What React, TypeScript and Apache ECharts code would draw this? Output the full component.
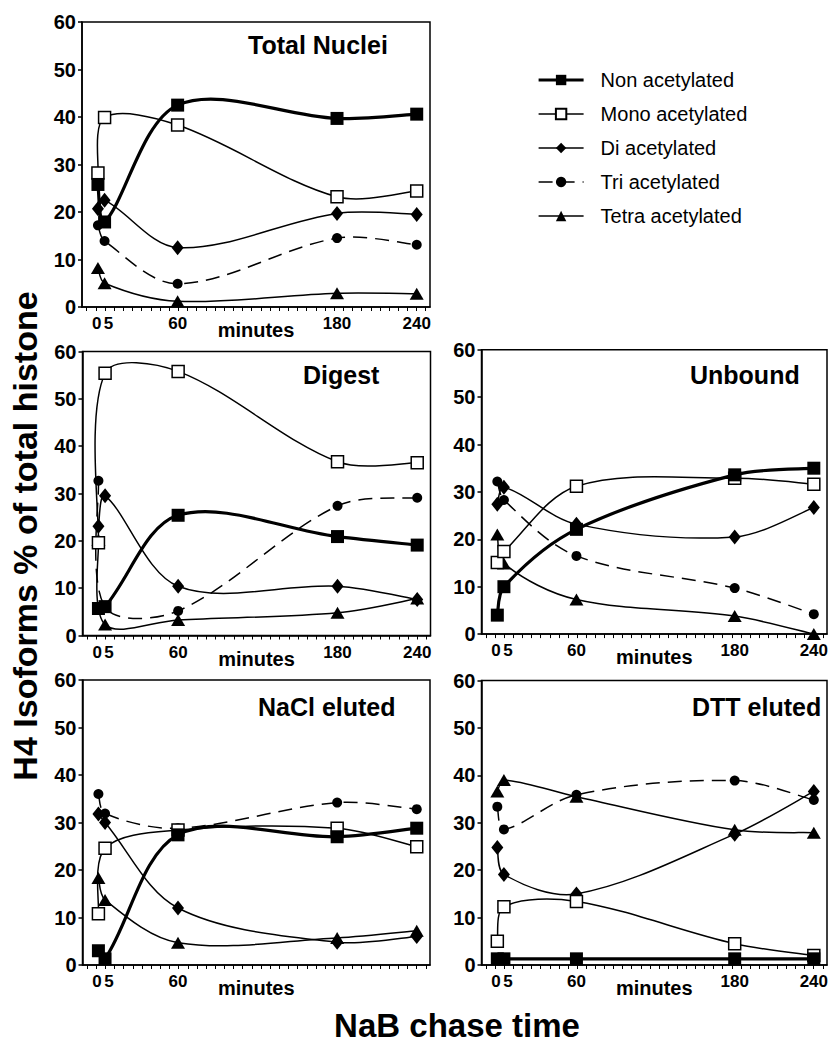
import React, { useEffect, useRef } from "react";
import * as echarts from "echarts";

const minutes = [0, 5, 60, 180, 240];
const seriesNames = ["Non acetylated", "Mono acetylated", "Di acetylated", "Tri acetylated", "Tetra acetylated"];
const panelTitles = ["Total Nuclei", "Digest", "Unbound", "NaCl eluted", "DTT eluted"];
const xTickLabels = ["0", "5", "60", "180", "240"];

// Total Nuclei
const totalNon = [25.8, 17.9, 42.5, 39.7, 40.6];
const totalMono = [28.2, 39.9, 38.3, 23.2, 24.4];
const totalDi = [20.7, 22.5, 12.5, 19.7, 19.5];
const totalTri = [17.2, 13.9, 4.9, 14.5, 13.1];
const totalTetra = [8.2, 5.0, 1.2, 2.9, 2.8];
// Digest
const digestNon = [5.7, 6.1, 25.4, 20.9, 19.1];
const digestMono = [19.6, 55.4, 55.8, 36.7, 36.5];
const digestDi = [23.1, 29.5, 10.4, 10.4, 7.6];
const digestTri = [32.7, 6.0, 5.2, 27.4, 29.1];
const digestTetra = [20.2, 2.3, 3.3, 4.8, 7.8];
// Unbound
const unboundNon = [4.0, 10.0, 22.1, 33.6, 35.0];
const unboundMono = [15.1, 17.4, 31.2, 32.9, 31.6];
const unboundDi = [27.4, 31.0, 23.2, 20.5, 26.7];
const unboundTri = [32.2, 28.3, 16.5, 9.7, 4.2];
const unboundTetra = [21.0, 14.9, 7.3, 3.8, 0.0];
// NaCl eluted
const naclNon = [3.0, 1.3, 27.4, 27.0, 28.8];
const naclMono = [10.8, 24.6, 28.4, 28.8, 24.9];
const naclDi = [31.8, 30.0, 12.0, 4.8, 6.0];
const naclTri = [36.0, 31.9, 28.8, 34.2, 32.8];
const naclTetra = [18.3, 13.7, 4.7, 5.7, 7.2];
// DTT eluted
const dttNon = [1.3, 1.3, 1.3, 1.3, 1.3];
const dttMono = [5.0, 12.3, 13.4, 4.5, 2.0];
const dttDi = [24.8, 19.1, 15.0, 27.6, 36.6];
const dttTri = [33.4, 28.6, 35.9, 38.9, 34.8];
const dttTetra = [36.6, 39.0, 35.5, 28.5, 27.9];

const panels = [
  [totalNon, totalMono, totalDi, totalTri, totalTetra],
  [digestNon, digestMono, digestDi, digestTri, digestTetra],
  [unboundNon, unboundMono, unboundDi, unboundTri, unboundTetra],
  [naclNon, naclMono, naclDi, naclTri, naclTetra],
  [dttNon, dttMono, dttDi, dttTri, dttTetra],
];

const FONT = "'Liberation Sans', Arial, sans-serif";

const gridBoxes = [
  { left: 82, top: 22, width: 348, height: 285 },
  { left: 82.5, top: 351.5, width: 348, height: 284 },
  { left: 481.5, top: 349.7, width: 346.5, height: 284.4 },
  { left: 82.5, top: 680, width: 347.5, height: 285 },
  { left: 481.5, top: 680.5, width: 347, height: 284.5 },
];

const titlePos = [
  { x: 248, y: 45 },
  { x: 303, y: 375 },
  { x: 690, y: 375 },
  { x: 258, y: 707 },
  { x: 692, y: 707 },
];

// label positions nudged so "0" and "5" don't collide
const labelValues = [-1, 8, 60, 180, 240];

const lineStyles: Record<string, any> = {
  "Non acetylated": { width: 3.2, color: "#000", type: "solid" },
  "Mono acetylated": { width: 1.5, color: "#000", type: "solid" },
  "Di acetylated": { width: 1.5, color: "#000", type: "solid" },
  "Tri acetylated": { width: 1.5, color: "#000", type: [14, 8] },
  "Tetra acetylated": { width: 1.5, color: "#000", type: "solid" },
};

const markerStyles: Record<string, any> = {
  "Non acetylated": { symbol: "rect", symbolSize: 13, itemStyle: { color: "#000" } },
  "Mono acetylated": { symbol: "rect", symbolSize: 12, itemStyle: { color: "#fff", borderColor: "#000", borderWidth: 1.5 } },
  "Di acetylated": { symbol: "diamond", symbolSize: [12, 15], itemStyle: { color: "#000" } },
  "Tri acetylated": { symbol: "circle", symbolSize: 10, itemStyle: { color: "#000" } },
  "Tetra acetylated": { symbol: "triangle", symbolSize: [14, 12], itemStyle: { color: "#000" } },
};

function curvePath(pts: number[][]): string {
  // distance-weighted cardinal spline through the projected points
  const s = 1 / 3;
  const n = pts.length;
  const dist = (a: number[], b: number[]) => Math.hypot(b[0] - a[0], b[1] - a[1]);
  const cpIn: number[][] = [];
  const cpOut: number[][] = [];
  for (let i = 0; i < n; i++) {
    const p = pts[i];
    if (i === 0 || i === n - 1) {
      const q = i === 0 ? pts[1] : pts[n - 2];
      const c = [p[0] + (q[0] - p[0]) / 6, p[1] + (q[1] - p[1]) / 6];
      cpIn.push(c);
      cpOut.push(c);
      continue;
    }
    const a = pts[i - 1];
    const b = pts[i + 1];
    const vx = b[0] - a[0];
    const vy = b[1] - a[1];
    const d0 = dist(a, p);
    const d1 = dist(p, b);
    const sum = d0 + d1 || 1;
    cpIn.push([p[0] - vx * s * (d0 / sum), p[1] - vy * s * (d0 / sum)]);
    cpOut.push([p[0] + vx * s * (d1 / sum), p[1] + vy * s * (d1 / sum)]);
  }
  let d = `M${pts[0][0]} ${pts[0][1]}`;
  for (let i = 0; i < n - 1; i++) {
    const c1 = cpOut[i];
    const c2 = cpIn[i + 1];
    d += ` C${c1[0]} ${c1[1]} ${c2[0]} ${c2[1]} ${pts[i + 1][0]} ${pts[i + 1][1]}`;
  }
  return d;
}

export default function App() {
  const ref = useRef<HTMLDivElement>(null);
  useEffect(() => {
    if (!ref.current) return;
    const chart = echarts.init(ref.current, null, { renderer: "svg" });

    const minorTicks: number[] = [];
    for (let v = -8.5; v <= 250; v += 6.9) minorTicks.push(Math.round(v * 10) / 10);

    const grid = gridBoxes.map((g) => ({
      ...g,
      show: true,
      borderColor: "#000",
      borderWidth: 1.5,
      backgroundColor: "transparent",
    }));

    const xAxis = gridBoxes.map((_, i) => ({
      type: "value",
      gridIndex: i,
      min: -12,
      max: 250,
      name: "minutes",
      nameLocation: "middle",
      nameGap: 13,
      nameMoveOverlap: false,
      nameTextStyle: { fontFamily: FONT, fontWeight: "bold", fontSize: 20, color: "#000", verticalAlign: "top" },
      splitLine: { show: false },
      axisLine: { show: true, onZero: false, lineStyle: { color: "#000", width: 1.5 } },
      axisTick: { show: true, length: 4, inside: false, customValues: minorTicks, lineStyle: { color: "#000", width: 1 } },
      axisLabel: {
        show: true,
        customValues: i === 3 ? labelValues.slice(0, 3) : labelValues,
        formatter: (v: number) => {
          const k = labelValues.indexOf(v);
          return k >= 0 ? xTickLabels[k] : "";
        },
        margin: 8,
        fontFamily: FONT,
        fontWeight: "bold",
        fontSize: 17,
        color: "#000",
        showMinLabel: true,
        showMaxLabel: true,
      },
    }));

    const yAxis = gridBoxes.map((_, i) => ({
      type: "value",
      gridIndex: i,
      min: 0,
      max: 60,
      interval: 10,
      splitLine: { show: false },
      axisLine: { show: true, onZero: false, lineStyle: { color: "#000", width: 1.5 } },
      axisTick: { show: true, length: 4, lineStyle: { color: "#000", width: 1.5 } },
      axisLabel: { margin: 6, fontFamily: FONT, fontWeight: "bold", fontSize: 20, color: "#000" },
    }));

    const series: any[] = [];
    const drawOrder = [4, 3, 2, 1, 0];
    panels.forEach((panel, pi) => {
      drawOrder.forEach((si) => {
        const name = seriesNames[si];
        const values = panel[si];
        const ls = lineStyles[name];
        // smooth curve through the data (projected with the axes)
        series.push({
          type: "custom",
          coordinateSystem: "cartesian2d",
          xAxisIndex: pi,
          yAxisIndex: pi,
          clip: true,
          silent: true,
          z: 2,
          data: minutes.map((m, k) => [m, values[k]]),
          renderItem: (params: any, api: any) => {
            if (params.dataIndex !== 0) return null;
            const pts = minutes.map((m, k) => api.coord([m, values[k]]));
            return {
              type: "path",
              shape: { pathData: curvePath(pts) },
              style: {
                fill: "none",
                stroke: "#000",
                lineWidth: ls.width,
                lineDash: Array.isArray(ls.type) ? ls.type : null,
              },
            };
          },
        });
        // markers
        series.push({
          type: "line",
          name,
          xAxisIndex: pi,
          yAxisIndex: pi,
          data: minutes.map((m, k) => [m, values[k]]),
          lineStyle: { ...ls, opacity: 0 },
          ...markerStyles[name],
          z: 3 + (4 - si),
        });
      });
    });

    const graphic: any[] = panelTitles.map((t, i) => ({
      type: "text",
      x: titlePos[i].x,
      y: titlePos[i].y,
      style: { text: t, fontFamily: FONT, fontWeight: "bold", fontSize: 25, fill: "#000", textAlign: "left", textVerticalAlign: "middle" },
    }));
    graphic.push({
      type: "text",
      x: 25,
      y: 536,
      rotation: Math.PI / 2,
      style: { text: "H4 Isoforms % of total histone", fontFamily: FONT, fontWeight: "bold", fontSize: 34, fill: "#000", textAlign: "center", textVerticalAlign: "middle" },
    });
    graphic.push({
      type: "text",
      x: 457,
      y: 1025,
      style: { text: "NaB chase time", fontFamily: FONT, fontWeight: "bold", fontSize: 33, fill: "#000", textAlign: "center", textVerticalAlign: "middle" },
    });

    chart.setOption({
      animation: false,
      backgroundColor: "#fff",
      grid,
      xAxis,
      yAxis,
      series,
      graphic,
      legend: {
        data: seriesNames.map((n) => ({ name: n, lineStyle: { ...lineStyles[n], opacity: 1 } })),
        orient: "vertical",
        left: 532,
        top: 65,
        itemWidth: 45,
        itemHeight: 13,
        itemGap: 14,
        textStyle: { fontFamily: FONT, fontSize: 20, color: "#000", padding: [0, 0, 0, 12] },
      },
    });
    return () => chart.dispose();
  }, []);
  return <div ref={ref} style={{ position: "absolute", left: 0, top: 0, width: 831, height: 1044, background: "#fff" }} />;
}
